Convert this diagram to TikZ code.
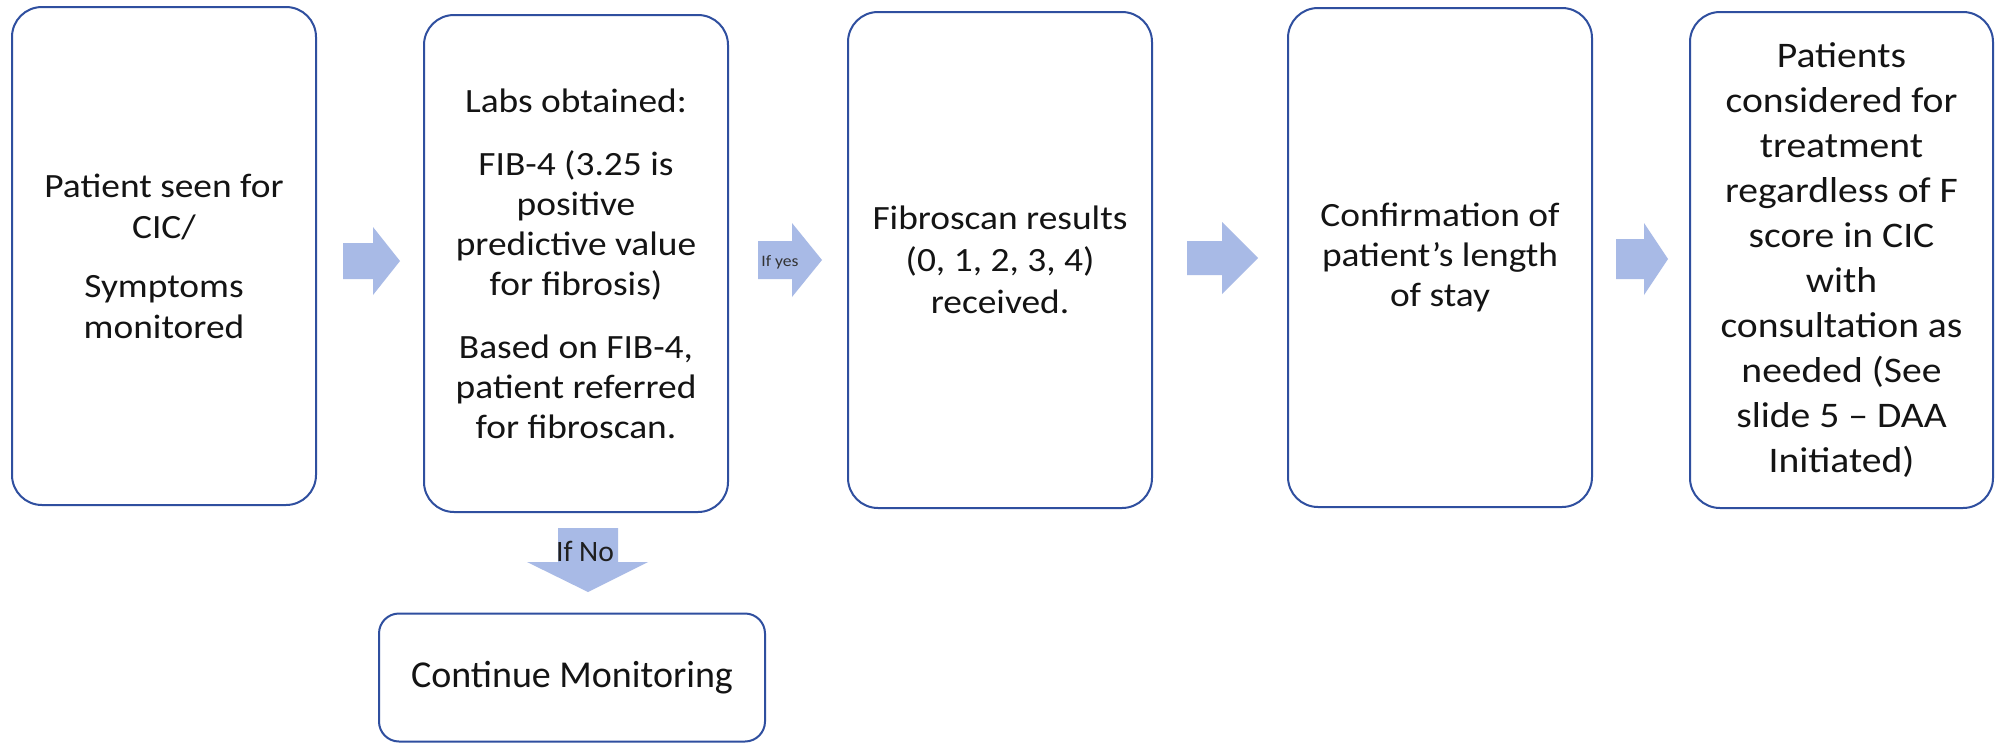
\documentclass[tikz,border=0pt]{standalone}
\usepackage{fontspec}
\setmainfont{Carlito}[FakeStretch=1.1]
\newfontfamily\plainfont{Carlito}
\definecolor{boxblue}{RGB}{47,79,159}
\definecolor{arrowblue}{RGB}{168,186,230}
\tikzset{
  card/.style={draw=boxblue, line width=1pt, rounded corners=15pt, fill=white,
    align=center, inner sep=0pt, text=black!92},
  barrow/.style={fill=arrowblue, draw=none},
}
\newcommand\rarrow[6]{%
  \fill[barrow] (#1,#4-#5) -- (#2,#4-#5) -- (#2,#4-#6) -- (#3,#4) -- (#2,#4+#6) -- (#2,#4+#5) -- (#1,#4+#5) -- cycle;}
\begin{document}
\begin{tikzpicture}[x=0.5pt,y=-0.5pt]
\useasboundingbox (0,0) rectangle (1999,745);
\fill[white] (0,0) rectangle (1999,745);

\node[card, minimum width=152pt, minimum height=249pt, font=\fontsize{17}{20.5}\selectfont] (b1) at (164,256)
  {Patient seen for\\CIC/\\[9pt]Symptoms\\monitored};
\node[card, minimum width=152pt, minimum height=248.5pt, font=\fontsize{17}{20}\selectfont] (b2) at (576,263.5)
  {Labs obtained:\\[11.5pt]FIB-4 (3.25 is\\positive\\predictive value\\for fibrosis)\\[11.5pt]Based on FIB-4,\\patient referred\\for fibroscan.};
\node[card, minimum width=152pt, minimum height=248pt, font=\fontsize{17}{21}\selectfont] (b3) at (1000,260)
  {Fibroscan results\\(0, 1, 2, 3, 4)\\received.};
\node[card, minimum width=152pt, minimum height=249.5pt, font=\fontsize{17}{20}\selectfont] (b4) at (1440,257.5)
  {Confirmation of\\patient’s length\\of stay};
\node[card, minimum width=151.5pt, minimum height=248pt, font=\fontsize{18}{22.5}\selectfont] (b5) at (1841.5,260)
  {Patients\\considered for\\treatment\\regardless of F\\score in CIC\\with\\consultation as\\needed (See\\slide 5 – DAA\\Initiated)};
\node[card, rounded corners=10pt, minimum width=193pt, minimum height=64pt, font=\plainfont\fontsize{19}{22}\selectfont] (b6) at (572,677.5)
  {Continue Monitoring};

\rarrow{343}{373}{400}{261}{18}{34}
\rarrow{758}{792}{822}{260}{19}{37}
\node[font=\fontsize{8}{9}\selectfont, text=black!80, inner sep=0pt] (yes) at (780,262) {If yes};
\rarrow{1187}{1222}{1258}{258}{17}{36}
\rarrow{1616}{1644}{1668}{259}{20}{36}

\fill[barrow] (558,528) -- (618,528) -- (618,562) -- (648,562) -- (588,592) -- (527,562) -- (558,562) -- cycle;
\node[font=\plainfont\fontsize{14.8}{16}\selectfont, text=black!88, inner sep=0pt] (no) at (585,551) {If No};
\end{tikzpicture}
\end{document}
